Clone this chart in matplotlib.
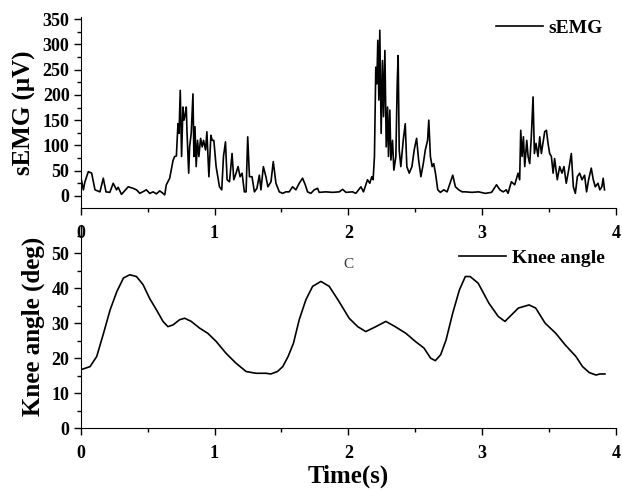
import numpy as np
import matplotlib
matplotlib.use('Agg')
import matplotlib.pyplot as plt

plt.rcParams['font.family'] = ['Liberation Serif', 'DejaVu Serif']
plt.rcParams['font.weight'] = 'bold'

# sEMG trace (time in s, amplitude in uV)
emg_t = [0.007, 0.02, 0.032, 0.057, 0.082, 0.107, 0.144, 0.169, 0.189, 0.218,
         0.243, 0.268, 0.280, 0.305, 0.355, 0.392, 0.417, 0.442, 0.491, 0.516,
         0.541, 0.566, 0.591, 0.615, 0.628, 0.640, 0.665, 0.690, 0.702, 0.715,
         0.727, 0.735, 0.744, 0.754, 0.764, 0.772, 0.782, 0.789, 0.794, 0.807,
         0.814, 0.826, 0.839, 0.846, 0.854, 0.863, 0.873, 0.883, 0.896, 0.908,
         0.918, 0.933, 0.943, 0.958, 0.973, 0.983, 0.995, 1.012, 1.037, 1.054,
         1.067, 1.082, 1.094, 1.112, 1.131, 1.144, 1.161, 1.176, 1.191, 1.206,
         1.223, 1.236, 1.248, 1.261, 1.280, 1.298, 1.317, 1.335, 1.347, 1.365,
         1.384, 1.399, 1.422, 1.439, 1.459, 1.484, 1.509, 1.533, 1.558, 1.583,
         1.608, 1.633, 1.658, 1.678, 1.695, 1.720, 1.745, 1.770, 1.782, 1.832,
         1.882, 1.932, 1.957, 1.982, 2.031, 2.056, 2.094, 2.113, 2.143, 2.160,
         2.175, 2.185, 2.195, 2.205, 2.213, 2.220, 2.228, 2.235, 2.245, 2.255,
         2.263, 2.273, 2.283, 2.293, 2.300, 2.310, 2.318, 2.330, 2.340, 2.355,
         2.365, 2.372, 2.380, 2.392, 2.410, 2.425, 2.437, 2.455, 2.475, 2.492,
         2.510, 2.525, 2.542, 2.560, 2.575, 2.592, 2.601, 2.613, 2.626, 2.638,
         2.651, 2.668, 2.688, 2.713, 2.738, 2.763, 2.780, 2.800, 2.825, 2.850,
         2.874, 2.924, 2.973, 3.023, 3.070, 3.107, 3.132, 3.157, 3.180, 3.193,
         3.218, 3.243, 3.268, 3.280, 3.288, 3.298, 3.308, 3.318, 3.333, 3.343,
         3.355, 3.367, 3.380, 3.390, 3.402, 3.417, 3.430, 3.442, 3.454, 3.467,
         3.480, 3.492, 3.504, 3.517, 3.530, 3.541, 3.561, 3.579, 3.596, 3.611,
         3.628, 3.646, 3.666, 3.681, 3.696, 3.711, 3.728, 3.746, 3.765, 3.780,
         3.795, 3.815, 3.830, 3.845, 3.865, 3.879, 3.894, 3.904, 3.914]
emg_v = [30, 12, 28, 48, 45, 12, 8, 35, 8, 7,
         25, 12, 17, 3, 18, 15, 12, 5, 12, 5,
         8, 4, 10, 5, 2, 22, 35, 70, 78, 79,
         143, 124, 209, 78, 176, 150, 163, 176, 130, 45,
         97, 124, 202, 78, 137, 58, 110, 78, 114, 97,
         110, 91, 127, 38, 120, 110, 110, 58, 18, 12,
         78, 107, 32, 28, 84, 32, 45, 58, 38, 45,
         8, 8, 117, 38, 38, 8, 15, 41, 12, 58,
         38, 18, 28, 68, 25, 8, 5, 8, 8, 18,
         12, 25, 35, 22, 8, 5, 12, 15, 7, 8,
         7, 8, 13, 7, 8, 5, 18, 8, 32, 25,
         38, 32, 78, 255, 222, 308, 190, 328, 124, 268,
         157, 288, 97, 176, 78, 170, 71, 110, 51, 78,
         222, 278, 91, 58, 110, 143, 58, 45, 58, 91,
         114, 71, 38, 64, 91, 110, 150, 78, 58, 64,
         45, 12, 7, 12, 8, 28, 41, 18, 12, 8,
         8, 7, 8, 5, 7, 22, 12, 8, 12, 5,
         28, 22, 45, 32, 130, 78, 117, 58, 110, 78,
         64, 117, 196, 84, 104, 78, 117, 84, 104, 127,
         130, 104, 84, 78, 45, 74, 32, 58, 45, 58,
         25, 51, 84, 18, 5, 38, 45, 32, 41, 8,
         32, 55, 32, 18, 25, 12, 18, 35, 12]

# knee angle trace (time in s, angle in deg)
knee_t = [0.00, 0.07, 0.12, 0.17, 0.22, 0.27, 0.32, 0.367, 0.417, 0.466, 0.516, 0.566,
          0.615, 0.652, 0.69, 0.74, 0.777, 0.826, 0.888, 0.95, 1.012, 1.086, 1.16, 1.236,
          1.31, 1.385, 1.42, 1.47, 1.51, 1.55, 1.59, 1.633, 1.683, 1.733, 1.795, 1.857,
          1.93, 2.006, 2.07, 2.13, 2.205, 2.28, 2.35, 2.43, 2.50, 2.565, 2.615, 2.65,
          2.69, 2.73, 2.78, 2.83, 2.874, 2.91, 2.97, 3.05, 3.12, 3.17, 3.22, 3.27,
          3.35, 3.40, 3.47, 3.55, 3.62, 3.70, 3.75, 3.80, 3.85, 3.88, 3.917]
knee_v = [16.7, 17.6, 20.5, 27.0, 33.8, 39.0, 42.9, 43.8, 43.3, 41.0, 37.0, 33.8,
          30.5, 29.0, 29.5, 31.0, 31.4, 30.5, 28.6, 27.1, 24.8, 21.4, 18.6, 16.2,
          15.7, 15.7, 15.5, 16.2, 17.6, 20.5, 24.3, 31.0, 36.7, 40.5, 41.9, 40.5,
          36.2, 31.4, 29.0, 27.6, 29.0, 30.5, 29.0, 27.1, 24.8, 22.9, 20.0, 19.3,
          21.0, 25.2, 32.9, 39.5, 43.3, 43.3, 41.4, 35.7, 31.9, 30.5, 32.4, 34.3,
          35.2, 34.3, 30.0, 27.1, 23.8, 20.5, 17.6, 15.9, 15.2, 15.5, 15.5]

xticks = [0, 1, 2, 3, 4]

fig = plt.figure(figsize=(6.22, 4.9), dpi=100)
ax2 = fig.add_axes([0.1297, 0.1259, 0.8607, 0.4149])
ax1 = fig.add_axes([0.1297, 0.5755, 0.8607, 0.3905])
ax1.set_zorder(3)
ax1.patch.set_alpha(0)

ax1.plot(emg_t, emg_v, color='black', lw=1.2, label='sEMG')
ax2.plot(knee_t, knee_v, color='black', lw=1.2, label='Knee angle')

for ax in (ax1, ax2):
    ax.spines['right'].set_visible(False)
    ax.spines['top'].set_visible(False)
    ax.set_xlim(0, 4)
    ax.set_xticks(xticks)
    ax.set_xticks(np.arange(0.5, 4, 1.0), minor=True)
    ax.tick_params(which='major', direction='out', length=5, width=1,
                   labelsize=13)
    ax.tick_params(axis='x', which='major', pad=7)
    ax.tick_params(axis='y', which='major', pad=3)
    ax.tick_params(which='minor', direction='out', length=3, width=1)
    for lab in ax.get_xticklabels() + ax.get_yticklabels():
        lab.set_fontweight('bold')

ax1.set_ylim(-24, 355)
ax1.set_yticks(np.arange(0, 351, 50))
ax1.set_yticks(np.arange(25, 351, 50), minor=True)
ax1.set_ylabel('sEMG (μV)', fontsize=18, fontweight='bold', labelpad=5)

ax2.set_ylim(0, 58)
ax2.set_yticks(np.arange(0, 51, 10))
ax2.set_yticks(np.arange(5, 56, 10), minor=True)
ax2.set_ylabel('Knee angle (deg)', fontsize=18, fontweight='bold', labelpad=5)
ax2.set_xlabel('Time(s)', fontsize=18, fontweight='bold', labelpad=2)

ax1.legend(loc='center right', bbox_to_anchor=(0.9757, 0.941), frameon=False,
           borderpad=0, borderaxespad=0, handlelength=2.4, handletextpad=0.3,
           prop={'size': 14, 'weight': 'bold'})
ax2.legend(loc='center right', bbox_to_anchor=(0.979, 0.838), frameon=False,
           borderpad=0, borderaxespad=0, handlelength=2.4, handletextpad=0.3,
           prop={'size': 14, 'weight': 'bold'})

ax2.text(2.0, 46.7, 'C', ha='center', va='center', fontsize=11,
         fontweight='normal', color='#333333')

fig.savefig('out.png', dpi=100)
